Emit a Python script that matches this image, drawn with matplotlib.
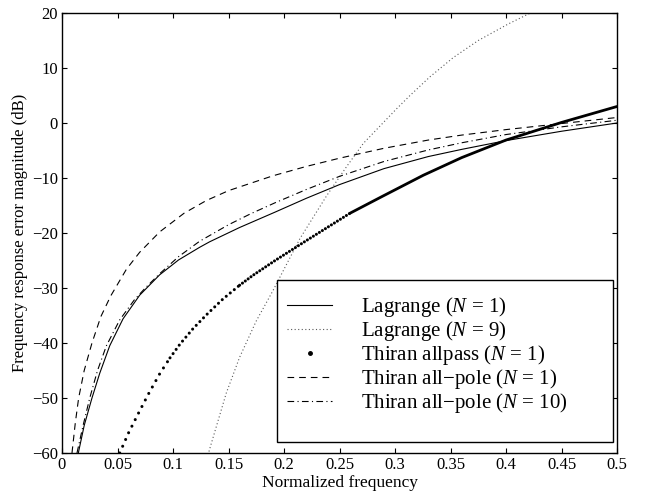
import matplotlib
matplotlib.use("Agg")
import matplotlib.pyplot as plt
from matplotlib.lines import Line2D
from matplotlib.patches import Rectangle
from matplotlib.ticker import FormatStrFormatter

plt.rcParams['font.family'] = ['Liberation Serif', 'DejaVu Serif']
plt.rcParams['mathtext.fontset'] = 'custom'
plt.rcParams['mathtext.rm'] = 'Liberation Serif'
plt.rcParams['mathtext.it'] = 'Liberation Serif:italic'

# Lagrange (N = 1)
lag1_f = [0.0147, 0.020, 0.027, 0.034, 0.043, 0.055, 0.070, 0.088, 0.105, 0.124, 0.133,
          0.16, 0.192, 0.22, 0.25, 0.29, 0.33, 0.36, 0.40, 0.45, 0.50]
lag1_db = [-60, -55, -50, -45.5, -40.5, -35.6, -31.3, -27.6, -24.9, -22.6, -21.6,
           -19.0, -16.2, -13.7, -11.2, -8.3, -6.1, -4.8, -3.2, -1.5, 0.0]

# Lagrange (N = 9)
lag9_f = [0.131, 0.1327, 0.148, 0.160, 0.175, 0.190, 0.201, 0.2144, 0.2385, 0.2565,
          0.2715, 0.3015, 0.3135, 0.3315, 0.3525, 0.375, 0.402, 0.425]
lag9_db = [-61, -59.5, -49.1, -42.6, -36.0, -30.5, -26.2, -21.0, -13.2, -7.9,
           -3.7, 2.6, 5.0, 8.4, 11.9, 15.0, 18.0, 20.3]

# Thiran allpass (N = 1)
ap_f = [0.052, 0.0598, 0.0688, 0.0778, 0.0883, 0.0973, 0.1063, 0.118, 0.13, 0.145, 0.16,
        0.172, 0.192, 0.22, 0.2595, 0.288, 0.3255, 0.36, 0.40, 0.45, 0.50]
ap_db = [-60, -56.4, -52.8, -49.3, -45.5, -42.7, -40.2, -37.4, -34.9, -32.0, -29.5,
         -27.7, -25.0, -21.4, -16.4, -13.4, -9.5, -6.3, -3.1, 0.1, 3.0]

# Thiran all-pole (N = 1)
tp1_f = [0.009, 0.012, 0.015, 0.020, 0.027, 0.035, 0.044, 0.058, 0.070, 0.088, 0.11,
         0.13, 0.15, 0.19, 0.22, 0.25, 0.29, 0.33, 0.36, 0.40, 0.45, 0.50]
tp1_db = [-60, -54.5, -50, -45, -40, -35.2, -31.4, -26.6, -23.5, -19.8, -16.4,
          -14.1, -12.3, -9.6, -7.9, -6.4, -4.6, -3.1, -2.2, -1.2, -0.1, 1.0]

# Thiran all-pole (N = 10)
tp10_f = [0.0135, 0.019, 0.025, 0.032, 0.040, 0.052, 0.065, 0.075, 0.088, 0.105, 0.124,
          0.15, 0.17, 0.192, 0.22, 0.25, 0.29, 0.33, 0.36, 0.40, 0.45, 0.50]
tp10_db = [-60, -55, -50, -45, -40.5, -35.8, -32.2, -30.0, -27.4, -24.3, -21.5,
           -18.5, -16.5, -14.5, -12.1, -9.7, -7.0, -4.9, -3.6, -2.1, -0.7, 0.5]

labels = ['Lagrange ($N$ = 1)', 'Lagrange ($N$ = 9)', 'Thiran allpass ($N$ = 1)',
          'Thiran all\u2212pole ($N$ = 1)', 'Thiran all\u2212pole ($N$ = 10)']

fig = plt.figure(figsize=(6.5, 4.93), dpi=100)
ax = fig.add_axes([62/650, 1-453/493, 555/650, 440/493])

ax.plot(lag1_f, lag1_db, color='k', lw=0.8)
ax.plot(lag9_f, lag9_db, color='0.35', lw=0.8, ls=(0, (1, 2.2)))

# allpass curve: dots that close up into a thick line where the curve flattens
cuts = [0, 5, 10, 14, len(ap_f) - 1]
gaps = [2.4, 1.7, 1.15, None]
for i in range(4):
    a, b = cuts[i], cuts[i + 1] + 1
    if gaps[i] is None:
        ax.plot(ap_f[a:b], ap_db[a:b], color='k', lw=2.0, solid_capstyle='round')
    else:
        ax.plot(ap_f[a:b], ap_db[a:b], color='k', lw=2.2, ls=(0, (0.01, gaps[i])),
                dash_capstyle='round')

ax.plot(tp1_f, tp1_db, color='k', lw=0.8, ls=(0, (6, 4.5)))
ax.plot(tp10_f, tp10_db, color='k', lw=0.8, ls=(0, (6, 3, 1, 3)))

ax.set_xlim(0, 0.5)
ax.set_ylim(-60, 20)
ax.set_xticks([i * 0.05 for i in range(11)])
ax.set_yticks(range(-60, 21, 10))
ax.xaxis.set_major_formatter(FormatStrFormatter('%g'))
ax.tick_params(direction='in', top=True, right=True, length=3.6, width=0.8, labelsize=12, pad=3)
for s in ax.spines.values():
    s.set_linewidth(1.0)

ax.set_xlabel('Normalized frequency', fontsize=12.5, labelpad=1)
ax.set_ylabel('Frequency response error magnitude (dB)', fontsize=12, labelpad=3)

# legend box
x0, x1 = (277 - 62) / 555, (613 - 62) / 555
y0, y1 = (453 - 442) / 440, (453 - 280) / 440
ax.add_patch(Rectangle((x0, y0), x1 - x0, y1 - y0, transform=ax.transAxes,
                       facecolor='white', edgecolor='k', lw=1.0, zorder=5))

handles = [
    Line2D([], [], color='k', lw=0.8),
    Line2D([], [], color='0.35', lw=0.8, ls=(0, (1, 2.2))),
    Line2D([], [], color='k', marker='.', ls='none', markersize=5),
    Line2D([], [], color='k', lw=0.8, ls=(0, (6, 4.5))),
    Line2D([], [], color='k', lw=0.8, ls=(0, (6, 3, 1, 3))),
]
leg = ax.legend(handles, labels, loc='upper left', bbox_to_anchor=(x0, y1 - 5 / 440),
                fontsize=15, labelspacing=0.0, borderpad=0.48, handlelength=2.18,
                handletextpad=1.37, frameon=False, borderaxespad=0)
leg.set_zorder(6)

fig.savefig('out.png', dpi=100)
